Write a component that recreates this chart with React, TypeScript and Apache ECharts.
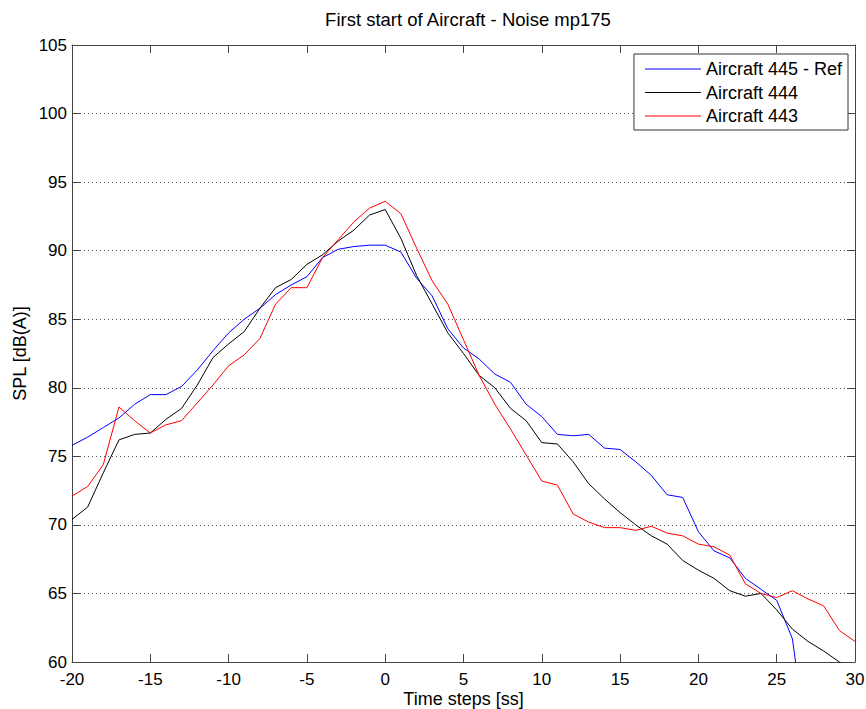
import React, { useEffect, useRef } from "react";
import * as echarts from "echarts";

const timeSteps = [
  -20, -19, -18, -17, -16, -15, -14, -13, -12, -11, -10, -9, -8, -7, -6, -5, -4, -3, -2, -1,
  0, 1, 2, 3, 4, 5, 6, 7, 8, 9, 10, 11, 12, 13, 14, 15, 16, 17, 18, 19, 20,
  21, 22, 23, 24, 25, 26, 27, 28, 29, 30,
];

const aircraft445Ref = [
  75.8, 76.4, 77.1, 77.8, 78.8, 79.5, 79.5, 80.1, 81.3, 82.7, 84.0, 85.0, 85.8, 86.8, 87.5, 88.1, 89.5, 90.1, 90.3, 90.4,
  90.4, 89.9, 88.0, 86.7, 84.3, 82.9, 82.1, 81.0, 80.4, 78.8, 77.9, 76.6, 76.5, 76.6, 75.6, 75.5, 74.6, 73.6, 72.2, 72.0,
  69.5, 68.1, 67.6, 66.1, 65.3, 64.5, 61.7, 53.5, null, null, null,
];

const aircraft444 = [
  70.4, 71.3, 73.8, 76.2, 76.6, 76.7, 77.7, 78.5, 80.2, 82.2, 83.2, 84.1, 85.8, 87.3, 87.9, 89.0, 89.7, 90.7, 91.5, 92.6,
  93.0, 90.9, 88.2, 86.1, 84.0, 82.5, 80.9, 80.0, 78.5, 77.6, 76.0, 75.9, 74.6, 73.0, 71.9, 70.9, 70.0, 69.2, 68.6, 67.4,
  66.7, 66.1, 65.2, 64.8, 65.0, 63.8, 62.4, 61.5, 60.8, 60.0, 59.4,
];

const aircraft443 = [
  72.1, 72.8, 74.4, 78.6, 77.6, 76.7, 77.3, 77.6, 78.9, 80.2, 81.6, 82.4, 83.6, 86.1, 87.3, 87.3, 89.5, 90.8, 92.1, 93.1,
  93.6, 92.7, 90.2, 87.8, 86.1, 83.5, 80.9, 78.8, 77.0, 75.1, 73.2, 72.9, 70.8, 70.2, 69.8, 69.8, 69.6, 69.9, 69.4, 69.2,
  68.6, 68.4, 67.8, 65.7, 65.0, 64.7, 65.2, 64.6, 64.1, 62.3, 61.5,
];

const seriesNames = ["Aircraft 445 - Ref", "Aircraft 444", "Aircraft 443"];
const seriesColors = ["#0000ff", "#000000", "#ff0000"];
const seriesValues = [aircraft445Ref, aircraft444, aircraft443];

const FONT = "'Liberation Sans', Arial, Helvetica, sans-serif";
const AXIS_COLOR = "#444444";

export default function App() {
  const ref = useRef<HTMLDivElement | null>(null);

  useEffect(() => {
    if (!ref.current) return;
    const chart = echarts.init(ref.current, undefined, { renderer: "svg" });

    const axisCommon = {
      type: "value" as const,
      axisLine: { show: true, onZero: false, lineStyle: { color: AXIS_COLOR, width: 1 } },
      axisTick: { show: true, inside: true, length: 8, lineStyle: { color: AXIS_COLOR, width: 1 } },
    };

    const option = {
      animation: false,
      backgroundColor: "#ffffff",
      textStyle: { fontFamily: FONT },
      title: {
        text: "First start of Aircraft - Noise mp175",
        left: 463,
        top: 5,
        textAlign: "center",
        textStyle: { fontFamily: FONT, fontSize: 18.5, fontWeight: "normal", color: "#000" },
      },
      legend: {
        orient: "vertical",
        right: 18,
        top: 54,
        padding: [5, 6, 4, 11],
        itemGap: 3.5,
        itemWidth: 56,
        itemHeight: 1,
        icon: "rect",
        backgroundColor: "#ffffff",
        borderColor: "#333333",
        borderWidth: 1,
        borderRadius: 0,
        data: seriesNames,
        textStyle: { fontFamily: FONT, fontSize: 18, color: "#000", lineHeight: 20 },
      },
      grid: { left: 72, right: 11, top: 45, bottom: 47, containLabel: false, outerBoundsMode: "none" },
      xAxis: [
        {
          ...axisCommon,
          position: "bottom",
          min: -20,
          max: 30,
          interval: 5,
          splitLine: { show: false },
          axisLabel: { color: "#000", fontSize: 17, fontFamily: FONT, margin: 9 },
          name: "Time steps [ss]",
          nameLocation: "middle",
          nameGap: 28,
          nameMoveOverlap: false,
          nameTextStyle: { color: "#000", fontSize: 18, fontFamily: FONT },
        },
        {
          ...axisCommon,
          position: "top",
          min: -20,
          max: 30,
          interval: 5,
          splitLine: { show: false },
          axisLabel: { show: false },
        },
      ],
      yAxis: [
        {
          ...axisCommon,
          position: "left",
          min: 60,
          max: 105,
          interval: 5,
          splitLine: { show: true, lineStyle: { color: "#555555", width: 1, type: [1, 3] } },
          axisLabel: { color: "#000", fontSize: 17, fontFamily: FONT, margin: 5 },
          name: "SPL [dB(A)]",
          nameLocation: "middle",
          nameGap: 43,
          nameMoveOverlap: false,
          nameTextStyle: { color: "#000", fontSize: 18, fontFamily: FONT },
        },
        {
          ...axisCommon,
          position: "right",
          min: 60,
          max: 105,
          interval: 5,
          splitLine: { show: false },
          axisLabel: { show: false },
        },
      ],
      series: seriesNames.map((name, i) => ({
        name,
        type: "line",
        xAxisIndex: 0,
        yAxisIndex: 0,
        showSymbol: false,
        symbol: "none",
        clip: true,
        connectNulls: false,
        color: seriesColors[i],
        lineStyle: { color: seriesColors[i], width: 1 },
        emphasis: { disabled: true },
        data: timeSteps.map((t, j) => [t, seriesValues[i][j]]),
      })),
    };

    chart.setOption(option as any);
    return () => {
      chart.dispose();
    };
  }, []);

  return (
    <div
      ref={ref}
      style={{ position: "fixed", left: 0, top: 0, width: 866, height: 709, background: "#fff" }}
    />
  );
}
